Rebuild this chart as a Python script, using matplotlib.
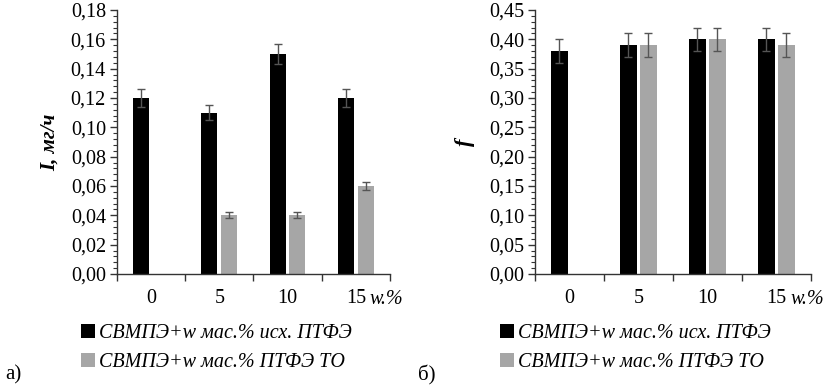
import matplotlib
matplotlib.use('Agg')
import matplotlib.pyplot as plt
import numpy as np
from matplotlib.patches import Patch
from matplotlib.ticker import MultipleLocator, FixedLocator

SERIF = 'Liberation Serif'
plt.rcParams['font.family'] = SERIF

categories = ['0', '5', '10', '15']

# (а) wear intensity I, mg/h
I_orig = [0.12, 0.11, 0.15, 0.12]
I_orig_err = [0.006, 0.005, 0.007, 0.006]
I_to = [np.nan, 0.04, 0.04, 0.06]
I_to_err = [np.nan, 0.002, 0.002, 0.003]

# (б) friction coefficient f
f_orig = [0.38, 0.39, 0.40, 0.40]
f_orig_err = [0.02, 0.02, 0.02, 0.02]
f_to = [np.nan, 0.39, 0.40, 0.39]
f_to_err = [np.nan, 0.02, 0.02, 0.02]

labels = ['СВМПЭ+w мас.% исх. ПТФЭ', 'СВМПЭ+w мас.% ПТФЭ ТО']
BLACK = '#000000'
GRAY = '#a6a6a6'
ERR = '#555555'

fig = plt.figure(figsize=(8.27, 3.88), dpi=100)
ax1 = fig.add_axes([0.1415, 0.2938, 0.330, 0.6804])
ax2 = fig.add_axes([0.6469, 0.2938, 0.3337, 0.6804])


def draw(ax, y1, e1, y2, e2, ymax, major, minor):
    x = np.arange(len(categories))
    w = 0.235
    off = 0.145
    ax.bar(x - off, y1, w, color=BLACK, zorder=2)
    ax.bar(x + off, y2, w, color=GRAY, zorder=2)
    ax.errorbar(x - off, y1, yerr=e1, fmt='none', ecolor=ERR, elinewidth=1,
                capsize=3, capthick=1, zorder=3)
    ax.errorbar(x + off, y2, yerr=e2, fmt='none', ecolor=ERR, elinewidth=1,
                capsize=3, capthick=1, zorder=3)
    ax.set_xlim(-0.5, 3.5)
    ax.set_ylim(0, ymax)
    ax.yaxis.set_major_locator(MultipleLocator(major))
    ax.yaxis.set_minor_locator(MultipleLocator(minor))
    ax.yaxis.set_major_formatter(plt.FuncFormatter(lambda v, p: f'{v:.2f}'.replace('.', ',')))
    ax.xaxis.set_major_locator(FixedLocator([-0.5, 0.5, 1.5, 2.5, 3.5]))
    ax.xaxis.set_minor_locator(FixedLocator(x))
    ax.xaxis.set_major_formatter(plt.NullFormatter())
    ax.xaxis.set_minor_formatter(plt.FixedFormatter(categories))
    ax.tick_params(axis='x', which='major', direction='out', length=5, width=1, color='#333333')
    ax.tick_params(axis='x', which='minor', length=0, pad=11, labelsize=14.5)
    ax.tick_params(axis='y', which='major', direction='out', length=5, width=1,
                   color='#333333', labelsize=14.5, pad=3)
    ax.tick_params(axis='y', which='minor', direction='out', length=3, width=0.8,
                   color='#333333')
    for s in ['top', 'right']:
        ax.spines[s].set_visible(False)
    for s in ['left', 'bottom']:
        ax.spines[s].set_color('#333333')
        ax.spines[s].set_linewidth(1)
    ax.text(3.2, -0.095, 'w.%', transform=ax.get_xaxis_transform(),
            fontsize=14.5, fontstyle='italic', ha='left', va='center')
    handles = [Patch(facecolor=BLACK, edgecolor='none'), Patch(facecolor=GRAY, edgecolor='none')]
    return handles


h = draw(ax1, I_orig, I_orig_err, I_to, I_to_err, 0.18, 0.02, 0.004)
draw(ax2, f_orig, f_orig_err, f_to, f_to_err, 0.45, 0.05, 0.01)

ax1.set_ylabel('I, мг/ч', fontsize=15, fontweight='bold', fontstyle='italic', labelpad=8)
ax2.set_ylabel('f', fontsize=16, fontweight='bold', fontstyle='italic', labelpad=10)

leg_kw = dict(loc='upper left', frameon=False,
              prop={'style': 'italic', 'size': 14.5},
              handlelength=0.7, handleheight=0.7, handletextpad=0.2,
              labelspacing=0.48, borderaxespad=0, borderpad=0)
fig.legend(h, labels, bbox_to_anchor=(81 / 827, 1 - 324 / 388), **leg_kw)
fig.legend(h, labels, bbox_to_anchor=(500 / 827, 1 - 324 / 388), **leg_kw)

fig.text(5 / 827, 1 - 375 / 388, 'а)', fontsize=15, va='center', ha='left')
fig.text(418 / 827, 1 - 375 / 388, 'б)', fontsize=15, va='center', ha='left')

fig.savefig('out.png', dpi=100)
